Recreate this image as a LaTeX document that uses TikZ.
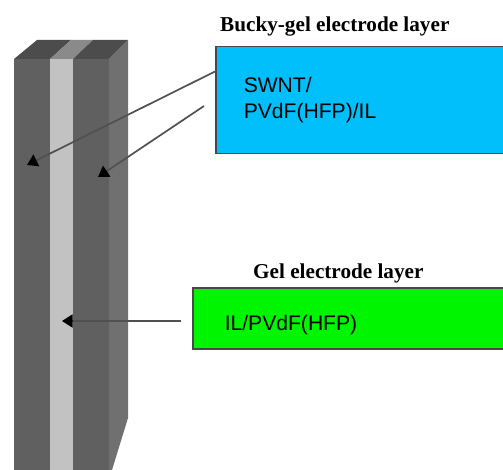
\documentclass[tikz,border=0pt]{standalone}
\usepackage{fontspec}
\setmainfont{Liberation Serif}
\setsansfont{Liberation Sans}
\usetikzlibrary{
   arrows.meta,
   positioning
}
\definecolor{layerdark}{HTML}{606060}
\definecolor{layerlight}{HTML}{C2C2C2}
\definecolor{layerside}{HTML}{707070}
\definecolor{topdark}{HTML}{4C4C4C}
\definecolor{toplight}{HTML}{8A8A8A}
\definecolor{buckyblue}{HTML}{00BFFA}
\definecolor{gelgreen}{HTML}{00F500}
\definecolor{boxedge}{HTML}{484848}
\definecolor{arrowgray}{HTML}{505050}

\begin{document}
\begin{tikzpicture}[
    x=1pt, y=-1pt,
    box/.style={rectangle, draw=boxedge, line width=1.5pt, anchor=north west, align=left, font=\sffamily\fontsize{21.1}{26.5}\selectfont, inner ysep=0pt, inner xsep=0pt},
    boxtitle/.style={font=\bfseries\fontsize{21.2}{24}\selectfont, inner sep=0pt, anchor=south west},
    arrow/.style={-{Triangle[length=10.5pt,width=13pt,color=black]}, line width=1.7pt, draw=arrowgray}
]

\useasboundingbox (0,0) rectangle (503,470);

\fill[layerdark] (14,59) rectangle (50,470);
\fill[layerlight] (50,59) rectangle (73,470);
\fill[layerdark] (73,470) rectangle (109,59);
\fill[layerside] (109,59) -- (128,40) -- (128,418) -- (112,470) -- (109,470) -- cycle;
\fill[topdark] (14,59) -- (37,40) -- (71,40) -- (50,59) -- cycle;
\fill[toplight] (50,59) -- (71,40) -- (93,40) -- (73,59) -- cycle;
\fill[topdark] (73,59) -- (93,40) -- (128,40) -- (109,59) -- cycle;

\node[box, fill=buckyblue, minimum width=300pt, minimum height=107pt, text width=244pt] (bucky) at (215,46) {SWNT/\\PVdF(HFP)/IL};
\node[box, fill=gelgreen, minimum width=322pt, minimum height=61pt, text height=29pt, text width=258pt] (gel) at (192,287) {IL/PVdF(HFP)};

\node[boxtitle, above right=10pt and 5pt of bucky.north west] (buckytitle) {Bucky-gel electrode layer};
\node[boxtitle, above right=4pt and 61pt of gel.north west] (geltitle) {Gel electrode layer};

\coordinate (buckystart) at (216,71);
\coordinate (buckytipA) at (27,165);
\coordinate (buckyfree) at (204,106);
\coordinate (buckytipB) at (98,177);
\coordinate (gelfree) at (181,321);
\coordinate (geltip) at (62,321);

\draw[arrow] (buckystart) -- (buckytipA);
\draw[arrow] (buckyfree) -- (buckytipB);
\draw[arrow] (gelfree) -- (geltip);

\end{tikzpicture}
\end{document}
